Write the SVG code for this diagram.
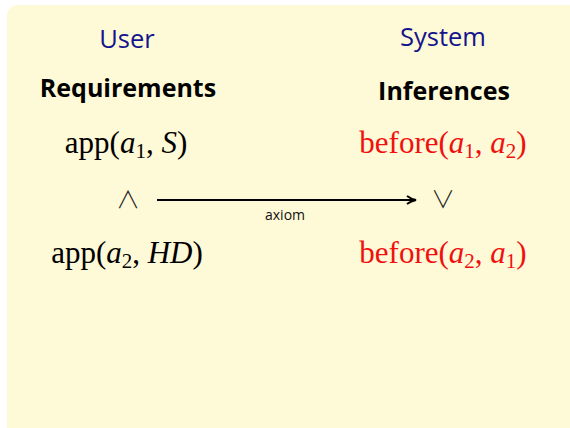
<svg xmlns="http://www.w3.org/2000/svg" width="570" height="428" viewBox="0 0 570 428">
<defs>
<style>
.hdr{font-family:"Open Sans","DejaVu Sans",sans-serif;font-size:25.5px;fill:#14148c;text-anchor:middle}
.ttl{font-family:"Open Sans","DejaVu Sans",sans-serif;font-weight:bold;font-size:25px;fill:#000;text-anchor:middle}
.m{font-family:"Liberation Serif","DejaVu Serif",serif;font-size:31px;fill:#000;text-anchor:middle}
.r{fill:#f01010}
.i{font-style:italic}
.sub{font-size:21px}
.op{font-family:"Noto Sans CJK JP","DejaVu Sans",sans-serif;font-weight:300;font-size:24px;fill:#222;text-anchor:middle}
.lbl{font-family:"Open Sans","DejaVu Sans",sans-serif;font-size:14px;fill:#111;text-anchor:middle}
</style>
<marker id="ah" markerWidth="12" markerHeight="10" refX="10" refY="5" orient="auto" markerUnits="userSpaceOnUse">
<path d="M1,1 Q5,4 10,5 Q5,6 1,9" fill="none" stroke="#000" stroke-width="2"/>
</marker>
</defs>
<rect x="0" y="0" width="570" height="428" fill="#fff"/>
<rect x="7" y="5" width="573" height="433" rx="11" fill="#fef9d6"/>
<g id="user-header"><text class="hdr" x="127" y="48">User</text></g>
<g id="system-header"><text class="hdr" x="443" y="46">System</text></g>
<g id="requirements"><text class="ttl" x="128" y="97">Requirements</text></g>
<g id="inferences"><text class="ttl" x="444" y="100">Inferences</text></g>
<g id="req1"><text class="m" x="126" y="153">app(<tspan class="i">a</tspan><tspan class="sub" dy="5">1</tspan><tspan dy="-5">, </tspan><tspan class="i">S</tspan>)</text></g>
<g id="and"><text class="op" x="128" y="208">∧</text></g>
<g id="req2"><text class="m" x="127" y="263">app(<tspan class="i">a</tspan><tspan class="sub" dy="5">2</tspan><tspan dy="-5">, </tspan><tspan class="i">HD</tspan>)</text></g>
<g id="inf1"><text class="m r" x="443" y="153">before(<tspan class="i">a</tspan><tspan class="sub" dy="5">1</tspan><tspan dy="-5">, </tspan><tspan class="i">a</tspan><tspan class="sub" dy="5">2</tspan><tspan dy="-5">)</tspan></text></g>
<g id="or"><text class="op" x="443" y="208">∨</text></g>
<g id="inf2"><text class="m r" x="443" y="263">before(<tspan class="i">a</tspan><tspan class="sub" dy="5">2</tspan><tspan dy="-5">, </tspan><tspan class="i">a</tspan><tspan class="sub" dy="5">1</tspan><tspan dy="-5">)</tspan></text></g>
<g id="connectors">
<line x1="157" y1="200" x2="416" y2="200" stroke="#000" stroke-width="2" marker-end="url(#ah)"/>
<text class="lbl" x="285" y="220">axiom</text>
</g>
</svg>
